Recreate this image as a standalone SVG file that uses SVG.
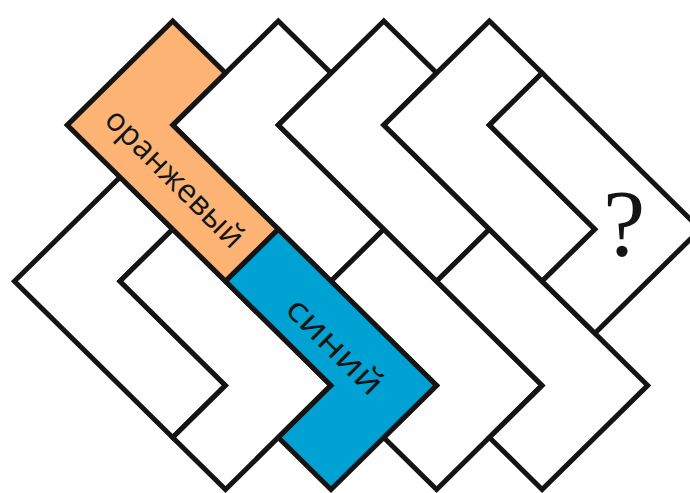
<svg xmlns="http://www.w3.org/2000/svg" width="690" height="493" viewBox="0 0 690 493">
<style>
.p{stroke:#141414;stroke-width:5;stroke-linejoin:miter;stroke-miterlimit:10}
.w{fill:#fefefe}
.o{fill:#fcb374}
.b{fill:#00a2d3}
.t{font-family:"Open Sans","Noto Sans","DejaVu Sans",sans-serif;fill:#141414;text-anchor:middle;dominant-baseline:central}
.q{font-family:"Liberation Serif","DejaVu Serif",serif;font-size:95px;fill:#141414;text-anchor:middle}
</style>
<rect width="690" height="493" fill="#ffffff"/>
<g id="piece-left">
<polygon class="p w" points="14.4,281.3 120,177.2 172.7,229.2 120,281.3 225.5,385.4 172.7,437.5"/>
</g>
<g id="piece-b-1">
<polygon class="p w" points="120,281.3 172.7,229.2 331,385.4 225.5,489.5 172.7,437.5 225.5,385.4"/>
</g>
<g id="piece-t1">
<polygon class="p w" points="172.7,125.1 278.3,21 331,73 278.3,125.1 383.8,229.2 331,281.3"/>
</g>
<g id="piece-b1">
<polygon class="p w" points="331,281.3 383.8,229.2 542.1,385.4 436.6,489.5 383.8,437.5 436.6,385.4"/>
</g>
<g id="piece-t2">
<polygon class="p w" points="278.3,125.1 383.8,21 436.6,73 383.8,125.1 489.4,229.2 436.6,281.3"/>
</g>
<g id="piece-b2">
<polygon class="p w" points="436.6,281.3 489.4,229.2 647.7,385.4 542.1,489.5 489.4,437.5 542.1,385.4"/>
</g>
<g id="piece-t3">
<polygon class="p w" points="383.8,125.1 489.4,21 542.1,73 489.4,125.1 594.9,229.2 542.1,281.3"/>
</g>
<g id="piece-question">
<polygon class="p w" points="489.4,125.1 542.1,73 700.4,229.2 594.9,333.3 542.1,281.3 594.9,229.2"/>
<text class="q" x="624" y="256">?</text>
</g>
<g id="piece-orange">
<polygon class="p o" points="67.2,125.1 172.7,21 225.5,73 172.7,125.1 278.3,229.2 225.5,281.3"/>
<text class="t" font-size="32" transform="translate(176,177) rotate(45)">оранжевый</text>
</g>
<g id="piece-blue">
<polygon class="p b" points="225.5,281.3 278.3,229.2 436.6,385.4 331,489.5 278.3,437.5 331,385.4"/>
<text class="t" font-size="34" textLength="122" lengthAdjust="spacingAndGlyphs" transform="translate(336,345) rotate(45)">синий</text>
</g>
</svg>
